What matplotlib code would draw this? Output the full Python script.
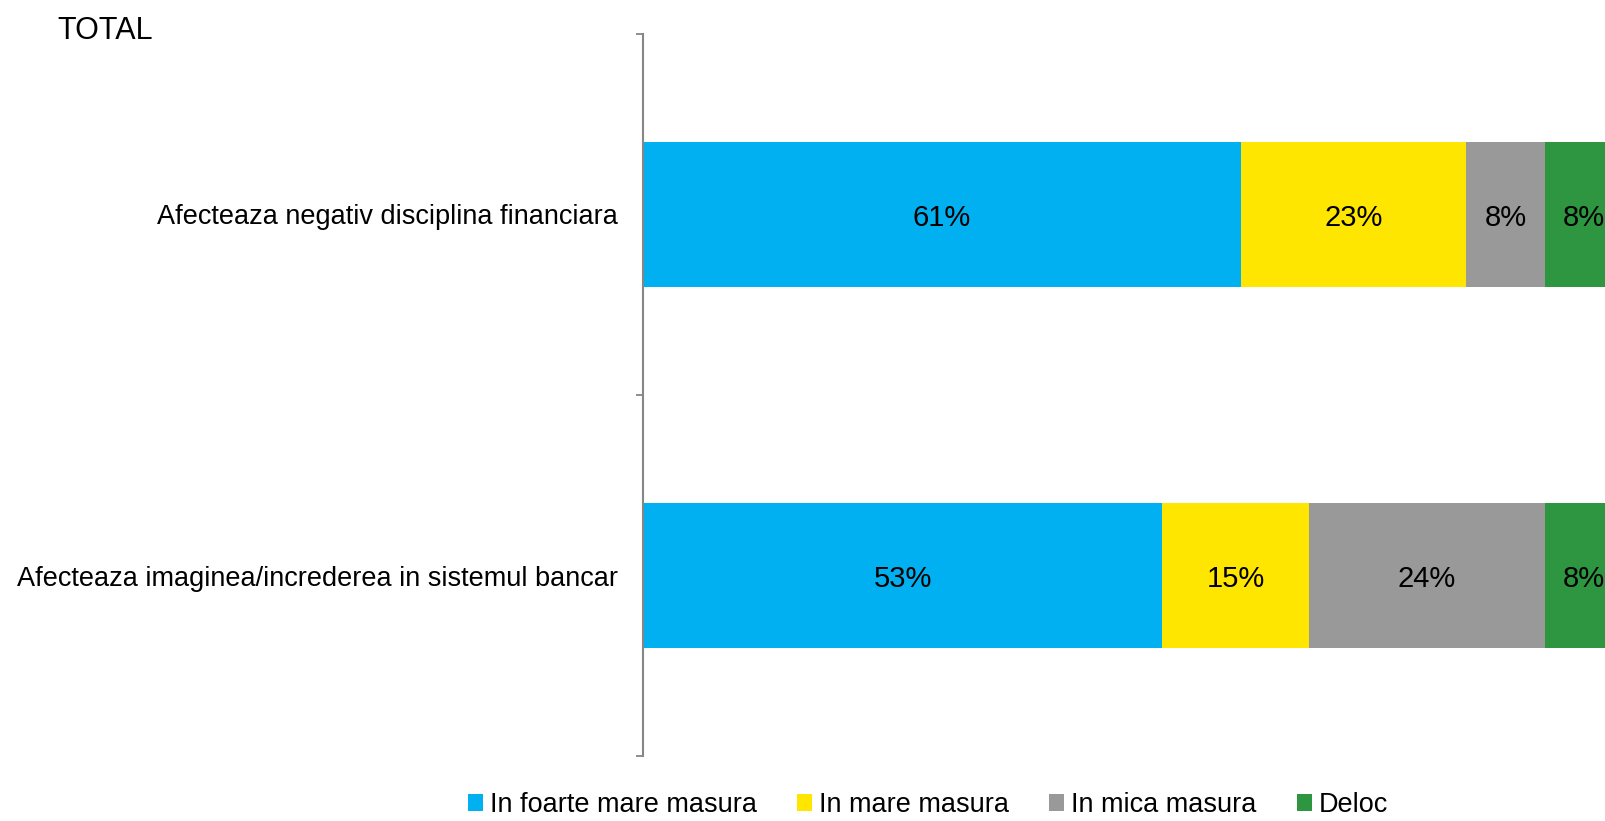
import matplotlib
matplotlib.use("Agg")
import matplotlib.pyplot as plt
from matplotlib.patches import Patch
import numpy as np

categories = ["Afecteaza negativ disciplina financiara",
              "Afecteaza imaginea/increderea in sistemul bancar"]
series_names = ["In foarte mare masura", "In mare masura", "In mica masura", "Deloc"]
foarte_mare = [61, 53]
mare = [23, 15]
mica = [8, 24]
deloc = [8, 8]
colors = ["#00B0F0", "#FFE600", "#999999", "#2E9640"]

plt.rcParams['font.family'] = ['Liberation Sans', 'DejaVu Sans']
FS = 19.5

fig = plt.figure(figsize=(16.06, 8.21), dpi=100)
ax = fig.add_axes([643/1606, 1-756/821, 980/1606, (756-34)/821])

y = np.arange(len(categories))
left = np.zeros(len(categories))
for vals, name, c in zip([foarte_mare, mare, mica, deloc], series_names, colors):
    vals = np.array(vals, dtype=float)
    ax.barh(y, vals, left=left, height=0.4, color=c, label=name)
    for yi, l, v in zip(y, left, vals):
        ax.text(l + v/2, yi + 0.01, f"{int(v)}%", ha='center', va='center', fontsize=21, color='black')
    left += vals

ax.set_xlim(0, 100)
ax.set_ylim(1.5, -0.5)
ax.set_yticks(y)
ax.set_yticklabels(categories, fontsize=FS)
ax.tick_params(axis='y', which='major', length=0, pad=18)
ax.set_yticks([-0.5, 0.5, 1.5], minor=True)
ax.tick_params(axis='y', which='minor', length=5.2, width=1.3, color='#868686', direction='out')
ax.set_xticks([])
for s in ['top', 'right', 'bottom']:
    ax.spines[s].set_visible(False)
ax.spines['left'].set_color('#868686')
ax.spines['left'].set_linewidth(1.5)

fig.text(57/1606, 1-31/821, "TOTAL", fontsize=22, ha='left', va='center')

handles = [Patch(facecolor=c, edgecolor='none', label=n) for n, c in zip(series_names, colors)]
fig.legend(handles=handles, loc='center', bbox_to_anchor=(928/1606, 1-805/821), ncol=4,
           frameon=False, fontsize=FS, handlelength=0.55, handleheight=0.55,
           handletextpad=0.25, columnspacing=1.5, borderpad=0.1)

fig.savefig("out.png", dpi=100)
